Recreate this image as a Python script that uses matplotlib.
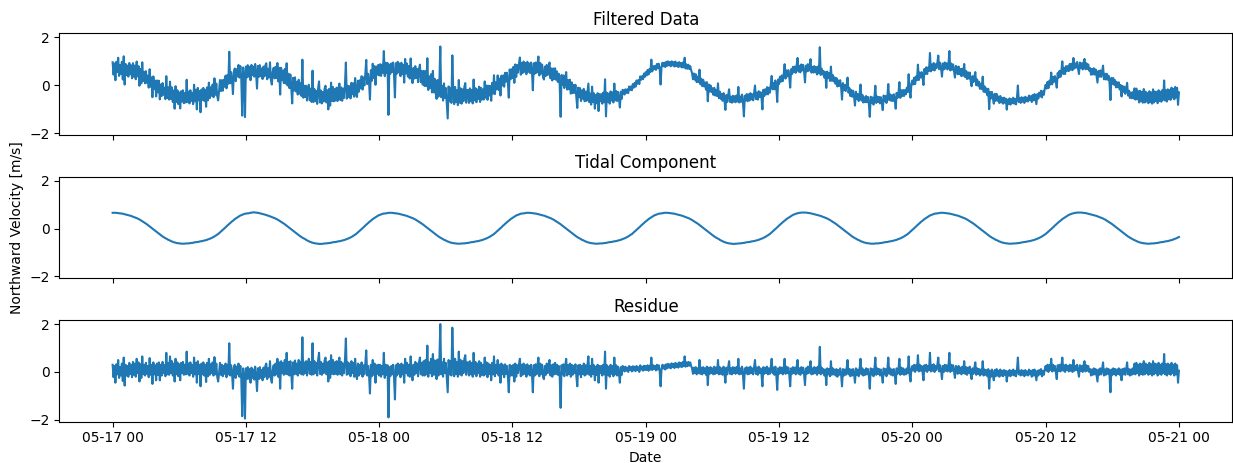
import numpy as np
import pandas as pd
import matplotlib
matplotlib.use("Agg")
import matplotlib.pyplot as plt
import matplotlib.dates as mdates

# 5-minute samples, 2023-05-17 00:00 .. 2023-05-21 00:00
start = "2023-05-17 00:00"
step = "5min"

# tidal fit in cm/s, one block per tidal cycle (~12.4 h)
tidal_cm = [
    # cycle 0
    66, 66, 66, 66, 66, 65, 65, 64, 64, 63,
    63, 62, 61, 60, 59, 58, 57, 56, 55, 54,
    53, 51, 50, 48, 47, 45, 44, 42, 40, 38,
    36, 33, 31, 28, 26, 23, 21, 18, 15, 12,
    9, 6, 3, 0, -3, -6, -9, -12, -15, -18,
    -21, -24, -27, -30, -33, -35, -38, -40, -42, -44,
    -47, -48, -50, -52, -54, -55, -57, -58, -59, -60,
    -61, -61, -62, -62, -63, -63, -63, -63, -63, -62,
    -62, -62, -62, -61, -61, -60, -60, -59, -58, -57,
    -57, -56, -56, -55, -54, -53, -53, -52, -51, -50,
    -49, -48, -47, -45, -44, -42, -41, -39, -37, -35,
    -33, -30, -28, -25, -23, -19, -16, -12, -9, -5,
    -2, 2, 5, 9, 13, 16, 20, 23, 27, 30,
    33, 36, 40, 42, 45, 47, 50, 52, 55, 56,
    58, 59, 61, 62, 63, 63, 64, 64, 65, 66,
    # cycle 1
    67, 67, 68, 68, 67, 67, 66, 66, 65,
    64, 63, 62, 61, 60, 59, 58, 57, 55, 54,
    53, 51, 50, 48, 47, 45, 44, 42, 40, 38,
    36, 33, 31, 28, 26, 23, 21, 18, 15, 12,
    9, 6, 3, 0, -3, -6, -9, -12, -15, -18,
    -21, -24, -27, -30, -33, -35, -38, -40, -42, -44,
    -47, -49, -51, -53, -55, -56, -58, -59, -60, -61,
    -62, -62, -63, -63, -64, -64, -64, -64, -63, -63,
    -62, -62, -62, -61, -61, -60, -60, -59, -58, -57,
    -57, -56, -56, -55, -54, -53, -53, -52, -51, -50,
    -49, -48, -47, -45, -44, -42, -41, -39, -37, -35,
    -33, -30, -28, -25, -23, -19, -16, -12, -9, -5,
    -2, 2, 5, 9, 13, 16, 20, 23, 27, 30,
    33, 36, 40, 42, 45, 47, 50, 52, 55, 56,
    58, 59, 61, 62, 63, 63, 64, 64, 65, 66,
    # cycle 2
    66, 66, 66, 66, 65, 65, 64, 64, 63,
    63, 62, 61, 60, 59, 58, 57, 56, 55, 54,
    53, 51, 50, 48, 47, 45, 44, 42, 40, 38,
    36, 33, 31, 28, 26, 23, 21, 18, 15, 12,
    9, 6, 3, 0, -3, -6, -9, -12, -15, -18,
    -21, -24, -27, -30, -33, -35, -38, -40, -42, -44,
    -47, -48, -50, -52, -54, -55, -57, -58, -59, -60,
    -61, -61, -62, -62, -63, -63, -63, -63, -63, -62,
    -62, -62, -62, -61, -61, -60, -60, -59, -58, -57,
    -57, -56, -56, -55, -54, -53, -53, -52, -51, -50,
    -49, -48, -47, -45, -44, -42, -41, -39, -37, -35,
    -33, -30, -28, -25, -23, -19, -16, -12, -9, -5,
    -2, 2, 5, 9, 13, 16, 20, 23, 27, 30,
    33, 36, 40, 42, 45, 47, 50, 52, 55, 56,
    58, 59, 61, 62, 63, 63, 64, 64, 65, 66,
    # cycle 3
    66, 66, 66, 66, 65, 65, 64, 64, 63,
    63, 62, 61, 60, 59, 58, 57, 56, 55, 54,
    53, 51, 50, 48, 47, 45, 44, 42, 40, 38,
    36, 33, 31, 28, 26, 23, 21, 18, 15, 12,
    9, 6, 3, 0, -3, -6, -9, -12, -15, -18,
    -21, -24, -27, -30, -33, -35, -38, -40, -42, -44,
    -47, -48, -50, -52, -54, -55, -57, -58, -59, -60,
    -61, -61, -62, -62, -63, -63, -63, -63, -63, -62,
    -62, -62, -62, -61, -61, -60, -60, -59, -58, -57,
    -57, -56, -56, -55, -54, -53, -53, -52, -51, -50,
    -49, -48, -47, -45, -44, -42, -41, -39, -37, -35,
    -33, -30, -28, -25, -23, -19, -16, -12, -9, -5,
    -2, 2, 5, 9, 13, 16, 20, 23, 27, 30,
    33, 36, 40, 42, 45, 47, 50, 52, 55, 56,
    58, 59, 61, 62, 63, 63, 64, 64, 65, 66,
    # cycle 4
    66, 66, 66, 66, 65, 65, 64, 64, 63,
    63, 62, 61, 60, 59, 58, 57, 56, 55, 54,
    53, 51, 50, 48, 47, 45, 44, 42, 40, 38,
    36, 33, 31, 28, 26, 23, 21, 18, 15, 12,
    9, 6, 3, 0, -3, -6, -9, -12, -15, -18,
    -21, -24, -27, -30, -33, -35, -38, -40, -42, -44,
    -47, -49, -51, -53, -55, -56, -58, -59, -60, -61,
    -62, -62, -63, -63, -64, -64, -64, -63, -63, -63,
    -62, -62, -62, -61, -61, -60, -60, -59, -58, -57,
    -57, -56, -56, -55, -54, -53, -53, -52, -51, -50,
    -49, -48, -47, -45, -44, -42, -41, -39, -37, -35,
    -33, -30, -28, -25, -23, -19, -16, -12, -9, -5,
    -2, 2, 5, 9, 13, 16, 20, 23, 27, 30,
    33, 36, 40, 42, 45, 47, 50, 52, 55, 57,
    59, 60, 62, 63, 64, 65, 66, 66, 67, 67,
    # cycle 5
    67, 67, 67, 67, 66, 66, 65, 65, 64,
    63, 62, 61, 60, 59, 58, 57, 56, 55, 54,
    53, 51, 50, 48, 47, 45, 44, 42, 40, 38,
    36, 33, 31, 28, 26, 23, 21, 18, 15, 12,
    9, 6, 3, 0, -3, -6, -9, -12, -15, -18,
    -21, -24, -27, -30, -33, -35, -38, -40, -42, -44,
    -47, -48, -50, -52, -54, -55, -57, -58, -59, -60,
    -61, -61, -62, -62, -63, -63, -63, -63, -63, -62,
    -62, -62, -62, -61, -61, -60, -60, -59, -58, -57,
    -57, -56, -56, -55, -54, -53, -53, -52, -51, -50,
    -49, -48, -47, -45, -44, -42, -41, -39, -37, -35,
    -33, -30, -28, -25, -23, -19, -16, -12, -9, -5,
    -2, 2, 5, 9, 13, 16, 20, 23, 27, 30,
    33, 36, 40, 42, 45, 47, 50, 52, 55, 56,
    58, 59, 61, 62, 63, 63, 64, 64, 65, 66,
    # cycle 6
    66, 66, 66, 66, 65, 65, 64, 64, 63,
    63, 62, 61, 60, 59, 58, 57, 56, 55, 54,
    53, 51, 50, 48, 47, 45, 44, 42, 40, 38,
    36, 33, 31, 28, 26, 23, 21, 18, 15, 12,
    9, 6, 3, 0, -3, -6, -9, -12, -15, -18,
    -21, -24, -27, -30, -33, -35, -38, -40, -42, -44,
    -47, -48, -50, -52, -54, -55, -57, -58, -59, -60,
    -61, -61, -62, -62, -63, -63, -63, -63, -63, -62,
    -62, -62, -62, -61, -61, -60, -60, -59, -58, -57,
    -57, -56, -56, -55, -54, -53, -53, -52, -51, -50,
    -49, -48, -47, -45, -44, -42, -41, -39, -37, -35,
    -33, -30, -28, -25, -23, -19, -16, -12, -9, -5,
    -2, 2, 5, 9, 13, 16, 20, 23, 27, 30,
    33, 36, 40, 42, 45, 47, 50, 52, 55, 57,
    59, 60, 62, 63, 64, 65, 66, 66, 67, 67,
    # cycle 7 (to 05-21 00:00)
    67, 67, 67, 67, 66, 66, 65, 65, 64,
    63, 62, 61, 60, 59, 58, 57, 56, 55, 54,
    53, 51, 50, 48, 47, 45, 44, 42, 40, 38,
    36, 33, 31, 28, 26, 23, 21, 18, 15, 12,
    9, 6, 3, 0, -3, -6, -9, -12, -15, -18,
    -21, -24, -27, -30, -33, -35, -38, -40, -42, -44,
    -47, -48, -50, -52, -54, -55, -57, -58, -59, -60,
    -61, -61, -62, -62, -63, -63, -63, -63, -63, -62,
    -62, -62, -62, -61, -61, -60, -60, -59, -58, -57,
    -57, -56, -56, -55, -54, -53, -53, -52, -51, -50,
    -49, -48, -47, -45, -44, -42, -41, -39, -37, -35,
]

# residual after removing the tide, cm/s, one row per hour
residue_cm = [
    # 05-17 00-04
    30, -22, 25, -45, 32, -10, 50, -25, 20, -15, 35, -38,
    60, -57, 30, -15, 25, -20, 38, -8, 30, -22, 42, -12,
    35, -20, 55, -5, 40, -40, 32, -25, 65, -10, 30, -15,
    38, -8, 25, -22, 58, -12, 30, -50, 40, -10, 28, -35,
    # 04-08
    35, -12, 40, -35, 30, -15, 42, -5, 28, -18, 80, -10,
    38, -12, 65, -5, 45, -15, 35, -40, 55, -10, 40, -18,
    32, -35, 38, -5, 42, -12, 30, -10, 85, -8, 35, -15,
    40, -5, 28, -20, 60, -10, 38, -45, 45, -8, 30, -60,
    # 08-12
    35, -10, 40, -15, 30, -42, 38, -18, 55, -12, 32, -5,
    40, -15, 62, -10, 35, -20, -40, -5, 38, -12, 30, -18,
    25, -8, 35, -22, 30, -10, 120, -15, 28, -5, -70, 20,
    30, -25, 22, -10, 35, -20, 25, -28, -185, 15, -25, -195,
    # 12-16
    15, -30, 20, -28, 12, -45, 18, -25, 10, -32, 22, -20,
    -80, 15, -30, 20, -25, 8, -35, 18, -22, 25, 35, -30,
    15, -20, 45, -28, -45, 10, 28, -15, 35, -10, 55, -20,
    40, -70, 45, -5, 38, -12, 50, -8, 80, -10, 42, -15,
    # 16-20
    45, -5, -70, 40, -10, 48, -8, 35, -15, 50, -5, 42,
    -10, 145, -12, 40, -5, 45, -15, 38, 55, -8, 42, -12,
    120, -10, 45, -5, 38, -15, 50, 80, -8, 42, -12, 35,
    -5, 48, 60, -10, 40, -40, 45, -25, 70, -8, 50, -10,
    # 20-24
    40, -8, 45, -12, 38, 60, -10, 42, -15, 35, -5, 48,
    140, -12, 40, -8, 35, -18, 45, -5, 38, -20, 55, -10,
    -30, 35, -15, 30, -8, 40, -20, 28, -10, 35, 90, -15,
    25, -10, -90, 30, -18, 50, -12, 35, -45, 28, -8, 30,
    # 05-18 00-04
    -15, 30, -20, 25, -10, 80, -25, 30, -12, 28, -190, 20,
    -18, 25, -10, 30, -20, -115, 28, -15, 35, -8, 30, -22,
    35, -10, 28, -45, 55, -5, 38, -15, 30, -20, 65, -8,
    -35, 30, -12, 42, -5, 35, -18, 40, 60, -10, 38, -15,
    # 04-08
    45, -15, 50, -10, 110, -20, 40, -5, 55, -18, 75, -12,
    48, -8, -30, 52, -15, 45, 200, -10, 40, -20, 55, -5,
    38, -25, -85, 50, -10, 45, -15, 185, 40, -18, 55, -8,
    42, -20, 85, -10, 50, -15, 45, -5, 55, 70, -12, 40,
    # 08-12
    40, -15, 45, -10, 38, -20, 80, -8, 42, -18, 35, -5,
    45, -20, 38, -12, 30, -15, 60, -10, 40, -22, 35, -8,
    30, -35, 38, -10, 65, -18, 28, -5, 50, -15, 30, -45,
    35, -10, 28, -22, 32, -8, 25, -18, -85, 30, -15, 25,
    # 12-16
    -15, 30, -40, 35, -20, 28, -5, 32, 55, -18, 30, -12,
    35, -8, 28, -20, 32, -10, 25, -15, 30, -5, -85, 28,
    -15, 32, -10, 28, 60, -18, 35, -8, 30, -22, -30, 25,
    -12, 35, -5, 30, 50, -15, 28, -20, 32, -10, 38, -8,
    # 16-20
    30, -12, 25, -20, -150, 28, -10, 32, -18, 25, 55, -15,
    28, -8, 35, -20, 30, -12, 25, -5, 32, -18, -60, 28,
    -10, 30, -22, 25, -8, 35, -15, 28, -10, 30, 65, -12,
    25, -20, 55, -8, 28, -35, 22, -12, 30, -45, 25, -5,
    # 20-24
    25, -15, 30, -10, 85, -70, 28, -12, 22, -20, 30, -8,
    25, -18, 60, -10, 28, -15, 22, -5, -45, 20, -12, 25,
    20, 2, 22, 5, 18, 0, 25, 8, 20, 2, 24, 6,
    22, 3, 25, 8, 20, 0, 28, 10, 22, 5, 26, 8,
    # 05-19 00-04
    25, 8, 28, 5, 26, 10, 60, 8, 28, 12, 25, 6,
    30, 10, 28, 5, -60, 12, 30, 14, 28, 10, 32, 15,
    34, 18, 32, 15, 36, 20, 34, 16, 38, 20, 35, 18,
    40, 22, 38, 20, 42, 24, 65, 22, 40, 24, 42, 26,
    # 04-08
    40, 25, 15, -8, 18, -5, 20, -10, 15, -5, 50, -8,
    18, -10, 20, -5, 15, -12, 22, -55, 18, -8, 20, -5,
    15, -10, 22, -8, 18, -5, 50, -10, 20, -8, 15, -12,
    22, -5, -45, 18, -10, 20, 45, -8, 15, -10, 20, -5,
    # 08-12
    18, -8, 20, -5, 55, -10, 15, -8, 22, -12, -70, 15,
    -5, 20, -10, 18, -8, 22, -5, 15, -10, 20, 50, -8,
    18, -12, 22, -5, 15, -10, -60, 20, -8, 18, -5, 22,
    -10, 15, -8, 20, 55, -5, 18, -12, 22, -10, -75, 15,
    # 12-16
    -8, 20, -5, 18, -10, 15, 55, -8, 22, -5, 18, -10,
    -60, 15, -8, 20, -5, 18, -10, 22, 50, -8, 15, -12,
    20, -5, 18, -10, -55, 15, -8, 22, -5, 18, 45, -10,
    15, -8, 20, -5, 18, -12, 22, -5, 105, -10, 18, -5,
    # 16-20
    12, -15, 10, -55, 15, -10, 12, -18, 45, -12, 15, -10,
    10, -15, 12, -20, 8, -12, 15, -10, -60, 12, -15, 10,
    -12, 15, 50, -10, 12, -18, 10, -15, 12, -8, -45, 15,
    -12, 10, -18, 12, 55, -10, 15, -15, 8, -12, 15, -10,
    # 20-24
    12, -15, -70, 15, -10, 12, -18, 10, 60, -12, 15, -8,
    12, -15, 10, -12, -45, 15, -10, 12, -18, 10, 60, -8,
    15, -12, 10, -15, 12, -10, -50, 15, -8, 12, 55, -12,
    18, -8, 15, -12, 10, -10, 15, -5, 65, -10, -40, 15,
    # 05-20 00-04
    25, 5, 30, 0, 28, 8, 70, 2, 30, 5, 25, 0,
    -35, 28, 5, 30, 0, 25, 8, 80, 2, 28, 5, 32,
    0, 25, 8, 30, 60, 2, 28, 5, -30, 25, 0, 30,
    5, 28, 2, 25, 80, 0, 30, 5, 28, 2, -25, 25,
    # 04-08
    20, -8, 25, -5, 18, -10, 22, -5, 45, -8, 20, -12,
    18, -5, 22, -10, -30, 15, -8, 18, 40, -12, 15, -8,
    12, -15, 10, -10, 45, -15, 10, -12, 8, -18, 12, -70,
    5, -20, 10, -15, -35, 8, -18, 12, -15, 5, -20, 10,
    # 08-12
    -15, 5, -18, 8, -12, 5, -40, 2, -15, 8, -18, 5,
    -12, 10, -15, 5, -18, 8, 60, -10, 5, -15, 8, -12,
    5, -18, 8, -12, 2, -15, 10, -10, 5, -20, 8, -15,
    10, -12, -35, 5, -15, 8, -10, 12, -18, 5, -12, 10,
    # 12-16
    25, 5, 30, 0, 28, 8, 55, 2, 30, 5, 25, 0,
    -30, 28, 5, 30, 2, 25, 60, 5, 28, 0, 30, 8,
    25, 2, 30, 5, 28, 0, 50, 5, 25, 8, 30, 2,
    -20, 28, 5, 25, 0, 30, 45, 2, 28, 5, 25, 0,
    # 16-20
    12, -15, 10, -12, 15, -10, 12, -15, -40, 10, -12, 15,
    -10, 12, 40, -15, 10, -12, 15, -8, 12, -15, -85, 10,
    -12, 15, -10, 12, -15, 10, -8, 15, -12, 10, -35, 12,
    -10, 15, -12, 10, 40, -10, 12, -15, 10, -12, 15, -8,
    # 20-24
    35, -10, 38, -5, 30, -15, 35, -8, 32, -12, 45, -10,
    35, -5, 30, -12, 38, -8, 32, -15, 45, -10, 35, -5,
    32, -15, 38, -8, 30, -12, 35, -5, 75, -10, 32, -15,
    35, -8, 30, -12, 38, -5, 30, -15, 35, -10, 28, -45,
    # 05-21 00
    5,
]

tidal = np.array(tidal_cm) / 100.0
residue = np.array(residue_cm) / 100.0
filtered = tidal + residue
time = pd.date_range(start, periods=len(tidal), freq=step)

fig, axes = plt.subplots(3, 1, figsize=(12.33, 4.63), dpi=100, sharex=True, sharey=True)
fig.subplots_adjust(left=0.0481, right=0.9994, bottom=0.0892, top=0.928, hspace=0.41)

axes[0].plot(time, filtered)
axes[0].set_title("Filtered Data")
axes[1].plot(time, tidal)
axes[1].set_title("Tidal Component")
axes[2].plot(time, residue)
axes[2].set_title("Residue")

axes[0].set_ylim(-2.08, 2.17)
axes[1].set_ylabel("Northward Velocity [m/s]")
axes[2].set_xlabel("Date")
axes[2].xaxis.set_major_locator(mdates.HourLocator(byhour=[0, 12]))
axes[2].xaxis.set_major_formatter(mdates.DateFormatter("%m-%d %H"))

plt.savefig("out.png", dpi=100)
